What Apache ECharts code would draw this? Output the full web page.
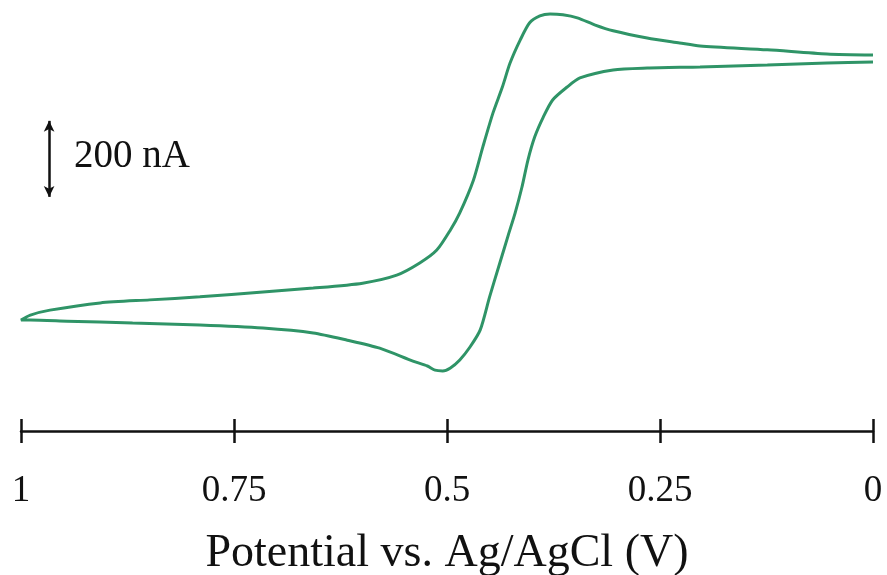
<!DOCTYPE html>
<html>
<head>
<meta charset="utf-8">
<style>
  html, body { margin: 0; padding: 0; background: #fff; }
  #chart { width: 887px; height: 575px; }
</style>
<script src="https://cdn.jsdelivr.net/npm/echarts@6/dist/echarts.min.js"></script>
</head>
<body>
<div id="chart"></div>
<script>
// Cyclic voltammogram: potential (V vs Ag/AgCl), current (nA, arbitrary offset)
// Anodic sweep, 0 V -> 1 V
const anodicPotential = [0.000, 0.054, 0.124, 0.203, 0.265, 0.305, 0.344, 0.359, 0.376, 0.387, 0.397, 0.405, 0.412, 0.420, 0.428, 0.438, 0.450, 0.461, 0.473, 0.485, 0.496, 0.505, 0.514, 0.523, 0.540, 0.579, 0.617, 0.657, 0.716, 0.790, 0.869, 0.946, 0.989, 1.000];
const anodicCurrent   = [679, 676, 671, 666, 663, 658, 637, 613, 579, 534, 482, 421, 350, 282, 224, 150, 61, -26, -71, -105, -126, -134, -132, -121, -108, -74, -53, -34, -21, -13, -8, -3, 0, 0];
// Cathodic sweep, 1 V -> 0 V
const cathodicPotential = [1.000, 0.989, 0.966, 0.907, 0.849, 0.790, 0.716, 0.657, 0.599, 0.559, 0.532, 0.512, 0.496, 0.485, 0.469, 0.458, 0.446, 0.435, 0.426, 0.414, 0.403, 0.391, 0.379, 0.364, 0.347, 0.326, 0.305, 0.265, 0.227, 0.203, 0.124, 0.054, 0.000];
const cathodicCurrent   = [0, 13, 26, 45, 53, 61, 74, 84, 97, 118, 150, 184, 237, 282, 368, 455, 545, 613, 676, 737, 782, 800, 805, 803, 795, 776, 761, 742, 729, 721, 711, 700, 697];
// Potential axis ticks
const potentialTicks = [1, 0.75, 0.5, 0.25, 0];
// Current scale bar (nA)
const scaleBarPotential = 0.967;
const scaleBarFrom = 324;
const scaleBarSpan = 200;
const scaleBarLabel = '200 nA';

const trace = [];
anodicPotential.forEach((v, i) => trace.push([v, anodicCurrent[i]]));
cathodicPotential.forEach((v, i) => trace.push([v, cathodicCurrent[i]]));

const serif = '"Liberation Serif", "DejaVu Serif", serif';
const ink = '#111';

const chart = echarts.init(document.getElementById('chart'), null, { renderer: 'canvas' });
chart.setOption({
  animation: false,
  backgroundColor: '#fff',
  grid: { left: 21, right: 14, top: 0, bottom: 144, containLabel: false, outerBoundsMode: 'none' },
  xAxis: [
    {
      type: 'value', min: 0, max: 1, interval: 0.25, inverse: true, position: 'bottom',
      axisLine: { show: true, onZero: false, lineStyle: { color: ink, width: 2.5 } },
      axisTick: { show: true, inside: false, length: 12, lineStyle: { color: ink, width: 2.5 } },
      axisLabel: {
        show: true, margin: 42, color: ink, fontFamily: serif, fontSize: 37,
        formatter: v => (potentialTicks.includes(v) ? String(v) : '')
      },
      splitLine: { show: false },
      name: 'Potential vs. Ag/AgCl (V)', nameLocation: 'middle', nameGap: 100,
      nameTextStyle: { color: ink, fontFamily: serif, fontSize: 46 }
    },
    {
      type: 'value', min: 0, max: 1, interval: 0.25, inverse: true, position: 'bottom',
      axisLine: { show: false, onZero: false },
      axisTick: { show: true, inside: true, length: 12, lineStyle: { color: ink, width: 2.5 } },
      axisLabel: { show: false },
      splitLine: { show: false }
    }
  ],
  yAxis: {
    type: 'value', min: -292, max: 842, show: false
  },
  series: [
    {
      type: 'line',
      xAxisIndex: 0,
      data: trace,
      showSymbol: false,
      smooth: 0.25,
      lineStyle: { color: '#2f9467', width: 3 },
      markLine: {
        silent: true,
        symbol: ['arrow', 'arrow'],
        symbolSize: [8, 11],
        label: { show: false },
        lineStyle: { color: ink, width: 2.5, type: 'solid' },
        data: [[
          { coord: [scaleBarPotential, scaleBarFrom] },
          { coord: [scaleBarPotential, scaleBarFrom + scaleBarSpan] }
        ]]
      }
    }
  ],
  graphic: [
    {
      type: 'text', left: 74, top: 137,
      style: { text: scaleBarLabel, fill: ink, font: '39px ' + serif }
    }
  ]
});
</script>
</body>
</html>
